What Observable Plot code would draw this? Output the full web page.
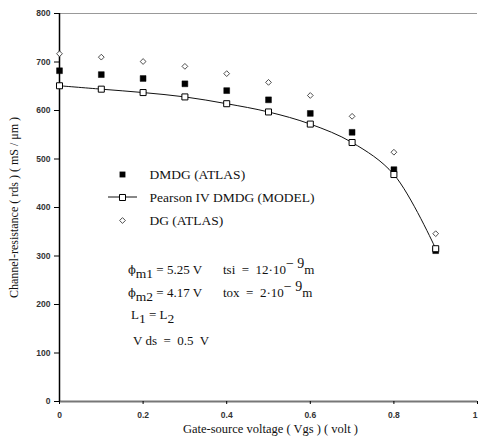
<!DOCTYPE html>
<html>
<head>
<meta charset="utf-8">
<script src="https://cdn.jsdelivr.net/npm/d3@7"></script>
<script src="https://cdn.jsdelivr.net/npm/@observablehq/plot@0.6"></script>
<style>
  html, body { margin: 0; padding: 0; background: #fff; }
  #chart svg { display: block; }
  .serif, .serif text { font-family: "Liberation Serif", "Times New Roman", "DejaVu Serif", serif !important; }
</style>
</head>
<body>
<div id="chart"></div>
<script>
// ---- data ----
const vgs = [0, 0.1, 0.2, 0.3, 0.4, 0.5, 0.6, 0.7, 0.8, 0.9];
const dmdgAtlas = [682, 674, 666, 655, 641, 622, 594, 555, 478, 311];
const dmdgModel = [651, 644, 637, 628, 614, 597, 572, 534, 468, 315];
const dgAtlas   = [717, 710, 701, 691, 676, 658, 631, 588, 514, 346];
const xTicks = [0, 0.2, 0.4, 0.6, 0.8];
const xEdgeTick = [1];
const yTicks = [0, 100, 200, 300, 400, 500, 600, 700, 800];
const legendLabels = ["DMDG (ATLAS)", "Pearson IV DMDG (MODEL)", "DG (ATLAS)"];
const xTitle = "Gate-source voltage ( Vgs ) ( volt )";
const yTitle = "Channel-resistance ( rds ) ( mS / \u03bcm )";

const rows = (ys) => vgs.map((x, i) => ({x, y: ys[i]}));
const atlas = rows(dmdgAtlas), model = rows(dmdgModel), dg = rows(dgAtlas);

const sans = "'Liberation Sans', Arial, sans-serif";

const chart = Plot.plot({
  width: 478,
  height: 441,
  marginLeft: 59,
  marginRight: 1,
  marginTop: 13,
  marginBottom: 40,
  style: {background: "#fff", overflow: "visible"},
  x: {domain: [0, 1], axis: null},
  y: {domain: [0, 800], axis: null},
  marks: [
    Plot.ruleY([800], {stroke: "#999", strokeWidth: 1}),
    Plot.ruleY([0], {stroke: "#777", strokeWidth: 2}),
    Plot.ruleX([0], {stroke: "#000", strokeWidth: 1.5}),
    Plot.axisY({ticks: yTicks, tickSize: 5, tickPadding: 4, tickFormat: d => String(d),
      fontSize: 8.5, fontFamily: sans, fontWeight: "bold", fill: "#333", label: null}),
    Plot.axisX({ticks: xTicks, tickSize: 3, tickPadding: 7, tickFormat: d => String(d),
      fontSize: 8.5, fontFamily: sans, fontWeight: "bold", fill: "#333", label: null}),
    Plot.axisX({ticks: xEdgeTick, tickSize: 3, tickPadding: 7, tickFormat: d => String(d), textAnchor: "end",
      fontSize: 8.5, fontFamily: sans, fontWeight: "bold", fill: "#333", label: null}),
    Plot.line(model, {x: "x", y: "y", curve: "catmull-rom", stroke: "#111", strokeWidth: 1}),
    Plot.dot(dg, {x: "x", y: "y", symbol: "diamond2", r: 2.6, fill: "#fff", stroke: "#222", strokeWidth: 0.8}),
    Plot.dot(atlas, {x: "x", y: "y", symbol: "square", r: 3.3, fill: "#000", stroke: "#000", strokeWidth: 0.5}),
    Plot.dot(model, {x: "x", y: "y", symbol: "square", r: 3.4, fill: "#fff", stroke: "#000", strokeWidth: 1}),
    // legend markers
    Plot.dot([legendLabels[0]], {frameAnchor: "top-left", dx: 63, dy: 161, symbol: "square", r: 3.3, fill: "#000"}),
    Plot.dot([legendLabels[2]], {frameAnchor: "top-left", dx: 63, dy: 207, symbol: "diamond2", r: 2.6, fill: "#fff", stroke: "#222", strokeWidth: 0.8}),
    Plot.dot([legendLabels[1]], {frameAnchor: "top-left", dx: 63, dy: 184, symbol: "square", r: 3.4, fill: "#fff", stroke: "#000", strokeWidth: 1}),
    Plot.text(legendLabels, {frameAnchor: "top-left", text: d => d, textAnchor: "start",
      fontSize: 13.5, fill: "#111", className: "serif"}),
    // axis titles
    Plot.text([yTitle], {frameAnchor: "left", textAnchor: "middle", dx: -45, rotate: -90, fontSize: 12, fill: "#111", className: "serif"}),
    Plot.text([xTitle], {frameAnchor: "bottom", textAnchor: "middle", dx: 2, dy: 31, fontSize: 12.5, fill: "#111", className: "serif"})
  ]
});

document.getElementById("chart").appendChild(chart);

const svg = d3.select(chart);
// position legend labels in their rows
const legendRowsY = [174, 197, 220];
svg.selectAll("text").filter(function() { return legendLabels.includes(this.textContent); })
  .each(function() {
    const i = legendLabels.indexOf(this.textContent);
    d3.select(this).attr("transform", `translate(149,${legendRowsY[i]})`)
      .attr("dy", "0.32em").attr("x", null).attr("y", null);
  });
// model legend line (behind the legend square)
svg.insert("line", ":first-child").attr("x1", 108).attr("x2", 137).attr("y1", 197).attr("y2", 197)
  .attr("stroke", "#111").attr("stroke-width", 1);

// annotations with sub/superscripts
const ann = svg.append("g").attr("class", "serif").attr("font-size", 13)
  .attr("fill", "#111").attr("text-anchor", "start");
function line(x, y, parts) {
  const t = ann.append("text").attr("x", x).attr("y", y);
  parts.forEach(p => {
    const s = t.append("tspan").text(p.t);
    if (p.sub) s.attr("baseline-shift", "-25%").attr("font-size", 13.5);
    if (p.sup) s.attr("baseline-shift", "45%").attr("font-size", 14);
    if (p.phi) s.attr("style", "font-family: 'DejaVu Serif', serif").attr("font-size", 11.5);
  });
}
line(128, 274, [{t: "\u03d5", phi: true}, {t: "m1", sub: true}, {t: " = 5.25 V"}]);
line(128, 297, [{t: "\u03d5", phi: true}, {t: "m2", sub: true}, {t: " = 4.17 V"}]);
line(223, 274, [{t: "tsi  =  12\u00b710"}, {t: "\u2212 9", sup: true}, {t: "m"}]);
line(223, 297, [{t: "tox  =  2\u00b710"}, {t: "\u2212 9", sup: true}, {t: "m"}]);
line(131, 319, [{t: "L"}, {t: "1", sub: true}, {t: " = L"}, {t: "2", sub: true}]);
line(133, 345, [{t: "V ds  =  0.5  V"}]);
</script>
</body>
</html>
